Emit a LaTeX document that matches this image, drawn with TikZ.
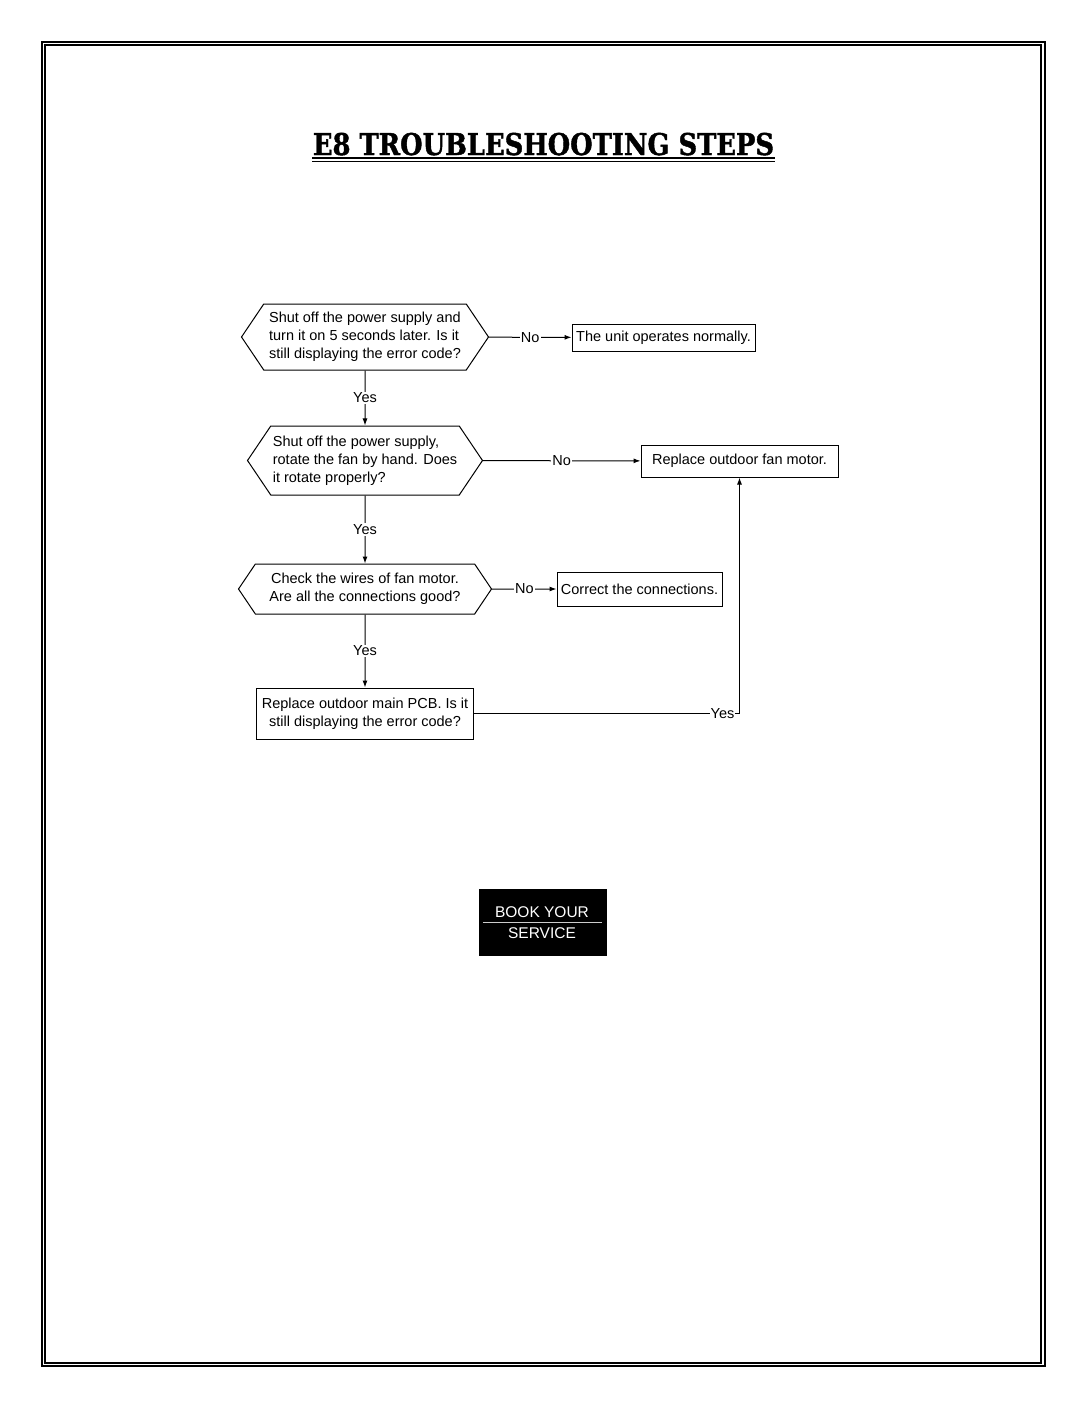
\documentclass[tikz,border=0pt]{standalone}
\usepackage{fontspec}
\setsansfont{Liberation Sans}
\newfontfamily\titlefont{DejaVu Serif}[BoldFeatures={FakeBold=1.5}]
\usetikzlibrary{arrows, arrows.meta, shapes, calc}

\begin{document}
\begin{tikzpicture}[x=1pt, y=-1pt]

    % Sans-serif text
    \sffamily

    % Page frame
    \tikzset{pF/.style={draw=black, line width = 1.4pt}}
    \useasboundingbox (0,0) rectangle (1088,1408);
    \path[pF] (42,42) rectangle (1045,1366);
    \path[pF] (45,45) rectangle (1041,1363);

    % Title
    \node (title) [anchor = base, inner sep = 0pt] at (543.5,155) {\scalebox{0.86}[1]{\titlefont\bfseries\fontsize{30}{30}\selectfont E8 TROUBLESHOOTING STEPS}};
    \draw[line width = 2pt] (312,158) -- (775,158);
    \draw[line width = 0.9pt] (312,161.5) -- (775,161.5);

    % Question and action nodes
    \tikzset{fT/.style={font = \fontsize{14.5}{18}\selectfont}}
    \tikzset{qS/.style={fT, draw, line width = 1pt, shape = signal, signal to = west and east, signal pointer angle = 112, inner sep = 0pt}}
    \tikzset{aS/.style={fT, draw, line width = 1pt, shape = rectangle, inner sep = 0pt, align = center}}

    % Connectors
    \tikzset{pE/.style={draw=black, line width = 1pt, -{Latex[length = 7pt, width = 5pt]}}}
    \tikzset{lE/.style={fT, fill = white, inner sep = 1pt}}

    % Tree nodes
    \node (qPower) [qS, align = left, minimum width = 247pt, minimum height = 66pt] at (365, 337) {Shut off the power supply and\\turn it on 5 seconds later. Is it\\still displaying the error code?};
    	\node (aNormal) [aS, minimum width = 183pt, minimum height = 27pt] at (663.5, 337.5) {The unit operates normally.};
    \node (qFan) [qS, align = left, minimum width = 235pt, minimum height = 69pt] at (365, 460.5) {Shut off the power supply,\\rotate the fan by hand. Does\\it rotate properly?};
    	\node (aMotor) [aS, minimum width = 197pt, minimum height = 32pt] at (739.5, 461) {Replace outdoor fan motor.};
    \node (qWires) [qS, align = center, minimum width = 253pt, minimum height = 50pt] at (365, 589) {Check the wires of fan motor.\\Are all the connections good?};
    	\node (aWires) [aS, minimum width = 165pt, minimum height = 34pt] at (639.5, 589) {Correct the connections.};
    \node (aPCB) [aS, minimum width = 217pt, minimum height = 51pt] at (365, 713.5) {Replace outdoor main PCB. Is it\\still displaying the error code?};

    % Branches
    \path[pE] (qPower) -- node[lE] {No} (aNormal);
    \path[pE] (qPower) -- node[lE] {Yes} (qFan);
    	\path[pE] (qFan) -- node[lE] {No} (aMotor);
    	\path[pE] (qFan) -- node[lE] {Yes} (qWires);
    		\path[pE] (qWires) -- node[lE] {No} (aWires);
    		\path[pE] (qWires) -- node[lE] {Yes} (aPCB);
    			\path[pE] (aPCB) -| node[lE, pos = 0.468] {Yes} (aMotor);

    % Service button
    \node (book) [fill = black, text = white, minimum width = 128pt, minimum height = 67pt, inner sep = 0pt] at (543, 922.5) {};
    \node (bookA) [text = white, font = \fontsize{15.5}{16}\selectfont] at (542, 912) {BOOK YOUR};
    \node (bookB) [text = white, font = \fontsize{15.5}{16}\selectfont] at (542, 933) {SERVICE};
    \draw[white!80!black, line width = 0.8pt] ($(book.west)+(4pt,0)$) -- ($(book.east)+(-5pt,0)$);

\end{tikzpicture}
\end{document}
